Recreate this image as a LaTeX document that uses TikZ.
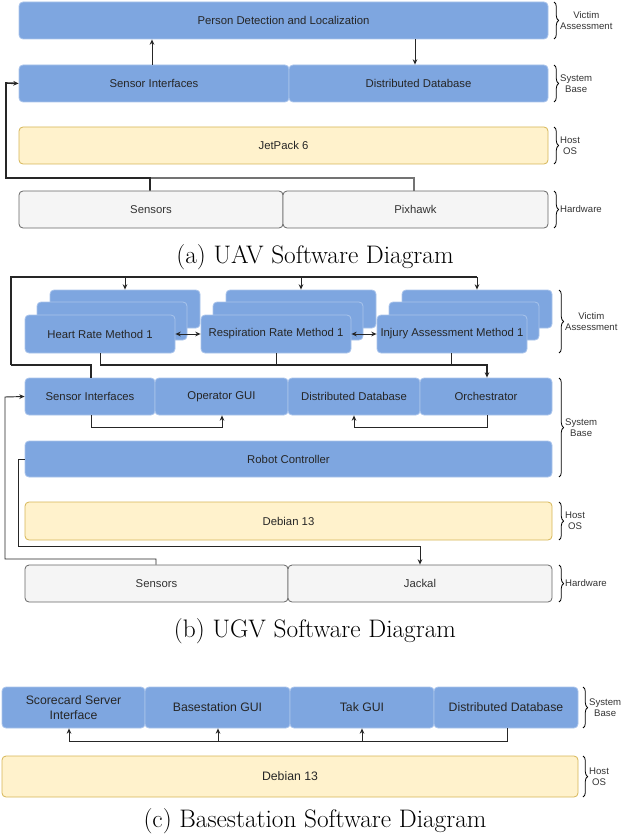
\documentclass[tikz,border=0pt]{standalone}
\usepackage{fontspec}
\setmainfont{Liberation Sans}
\newfontfamily\capfont{Latin Modern Roman}
\usetikzlibrary{arrows.meta,decorations.pathreplacing}
\definecolor{bfill}{HTML}{7EA6E0}
\definecolor{bdraw}{HTML}{A9C4EB}
\definecolor{yfill}{HTML}{FFF2CC}
\definecolor{ydraw}{HTML}{D6B656}
\definecolor{gfill}{HTML}{F5F5F5}
\definecolor{gdraw}{HTML}{666666}
\definecolor{gtext}{HTML}{333333}
\tikzset{
 base/.style={rounded corners=3pt, inner sep=0pt, font=\fontsize{8.5}{10}\selectfont, align=center, line width=0.6pt},
 blue/.style={base, fill=bfill, draw=bdraw, text=black!85},
 yel/.style={base, fill=yfill, draw=ydraw, text=black!85},
 gry/.style={base, fill=gfill, draw=gdraw, text=gtext},
 big/.style={font=\fontsize{9.2}{11}\selectfont},
 con/.style={draw=black!85, line width=0.7pt, -{Stealth[length=4pt,width=3.5pt]}},
 line/.style={draw=black!85, line width=0.7pt},
 thick con/.style={con, line width=1.2pt},
 br/.style={decorate, decoration={brace, amplitude=3.5pt}, line width=0.6pt},
 brl/.style={font=\fontsize{7.2}{8.5}\selectfont, align=center, text=black!80},
 captxt/.style={font=\capfont\fontsize{19}{21}\selectfont}
}
\newcommand\B[7]{%
 \pgfmathsetmacro\cx{(#3+#5)/2}\pgfmathsetmacro\cy{(#4+#6)/2}%
 \pgfmathsetmacro\ww{(#5-#3)*0.75}\pgfmathsetmacro\hh{(#6-#4)*0.75}%
 \node[#2, minimum width=\ww pt, minimum height=\hh pt] (#1) at (\cx,\cy) {#7};}
\newcommand\Brace[4]{\draw[br] (#1,#2) -- (#1,#3) node[midway, right=1pt, brl] {#4};}
\newcommand\Grp[3]{%
 \pgfmathsetmacro\xa{#1+25}\pgfmathsetmacro\xb{#1+175}%
 \pgfmathsetmacro\xc{#1+12}\pgfmathsetmacro\xd{#1+162}%
 \pgfmathsetmacro\xe{#1+150}%
 \B{#23}{blue}{\xa}{290}{\xb}{328}{}
 \B{#22}{blue}{\xc}{302}{\xd}{340}{}
 \B{#21}{blue}{#1}{315}{\xe}{353}{#3}}
\begin{document}
\begin{tikzpicture}[x=0.75pt,y=-0.75pt]
\useasboundingbox (0,0) rectangle (630,838);
% ---------- (a)
\B{pd}{blue}{19}{2}{548}{39}{Person Detection and Localization}
\B{si}{blue}{19}{65}{289}{102}{Sensor Interfaces}
\B{dd}{blue}{289}{65}{548}{102}{Distributed Database}
\B{jp}{yel}{19}{127}{548}{164}{JetPack 6}
\B{sen}{gry}{19}{191}{283}{228}{Sensors}
\B{px}{gry}{283}{191}{548}{228}{Pixhawk}
\draw[con] (si.north -| 152,0) -- (pd.south -| 152,0);
\draw[con] (pd.south -| 415,0) -- (dd.north -| 415,0);
\draw[line, black!55, line width=1pt] (px.north -| 414,0) -- (414,178) -- (150,178);
\draw[thick con] (sen.north -| 150,0) -- (150,178) -- (6,178) -- (6,83) -- (si.west);
\Brace{554}{2}{39}{Victim\\Assessment}
\Brace{554}{65}{102}{System\\Base}
\Brace{554}{127}{164}{Host\\OS}
\Brace{554}{191}{228}{Hardware}
\node[captxt] (ca) at (315,257) {(a) UAV Software Diagram};
% ---------- (b)
\Grp{25}{h}{Heart Rate Method 1}
\Grp{201}{r}{Respiration Rate Method 1}
\Grp{377}{i}{Injury Assessment Method 1}
\draw[line, line width=1.2pt] (11,365) -- (11,277) -- (477,277);
\draw[con] (125,277) -- (h3.north -| 125,0);
\draw[con] (301,277) -- (r3.north -| 301,0);
\draw[con] (477,277) -- (i3.north -| 477,0);
\draw[con, {Stealth[length=4pt,width=3.5pt]}-{Stealth[length=4pt,width=3.5pt]}] (h1.east) -- (r1.west);
\draw[con, {Stealth[length=4pt,width=3.5pt]}-{Stealth[length=4pt,width=3.5pt]}] (r1.east) -- (i1.west);
\B{si2}{blue}{25}{378}{155}{415}{Sensor Interfaces}
\B{og}{blue}{155}{378}{288}{415}{Operator GUI}
\B{dd2}{blue}{288}{378}{420}{415}{Distributed Database}
\B{or}{blue}{420}{378}{552}{415}{Orchestrator}
\draw[line, line width=1.2pt] (si2.north -| 91,0) -- (91,365) -- (11,365);
\draw[line] (h1.south -| 100,0) -- (100,365);
\draw[line] (r1.south -| 276,0) -- (276,365);
\draw[line] (i1.south -| 451,0) -- (451,365);
\draw[thick con] (100,365) -- (487,365) -- (or.north -| 487,0);
\draw[con] (si2.south -| 91,0) -- (91,427) -- (222,427) -- (og.south -| 222,0);
\draw[con] (or.south -| 487,0) -- (487,427) -- (354,427) -- (dd2.south -| 354,0);
\B{rc}{blue}{25}{441}{552}{477}{Robot Controller}
\B{deb}{yel}{25}{502}{552}{540}{Debian 13}
\B{sen2}{gry}{25}{565}{288}{602}{Sensors}
\B{jk}{gry}{288}{565}{552}{602}{Jackal}
\draw[con] (rc.west |- 0,459) -- (18,459) -- (18,546) -- (420,546) -- (jk.north -| 420,0);
\draw[con] (sen2.north -| 156,0) -- (156,559) -- (5,559) -- (5,397) -- (si2.west);
\Brace{559}{290}{353}{Victim\\Assessment}
\Brace{559}{378}{477}{System\\Base}
\Brace{559}{502}{540}{Host\\OS}
\Brace{559}{565}{602}{Hardware}
\node[captxt] (cb) at (315,631) {(b) UGV Software Diagram};
% ---------- (c)
\B{sc}{blue,big}{2}{687}{145}{728}{Scorecard Server\\Interface}
\B{bg}{blue,big}{145}{687}{290}{728}{Basestation GUI}
\B{tg}{blue,big}{290}{687}{434}{728}{Tak GUI}
\B{dd3}{blue,big}{434}{687}{578}{728}{Distributed Database}
\draw[line] (dd3.south -| 507,0) -- (507,741) -- (69,741);
\draw[con] (69,741) -- (sc.south -| 69,0);
\draw[con] (218,741) -- (bg.south -| 218,0);
\draw[con] (362,741) -- (tg.south -| 362,0);
\B{deb3}{yel,big}{2}{756}{578}{797}{Debian 13}
\Brace{583}{687}{728}{System\\Base}
\Brace{583}{756}{797}{Host\\OS}
\node[captxt] (cc) at (315,821) {(c) Basestation Software Diagram};
\end{tikzpicture}
\end{document}
